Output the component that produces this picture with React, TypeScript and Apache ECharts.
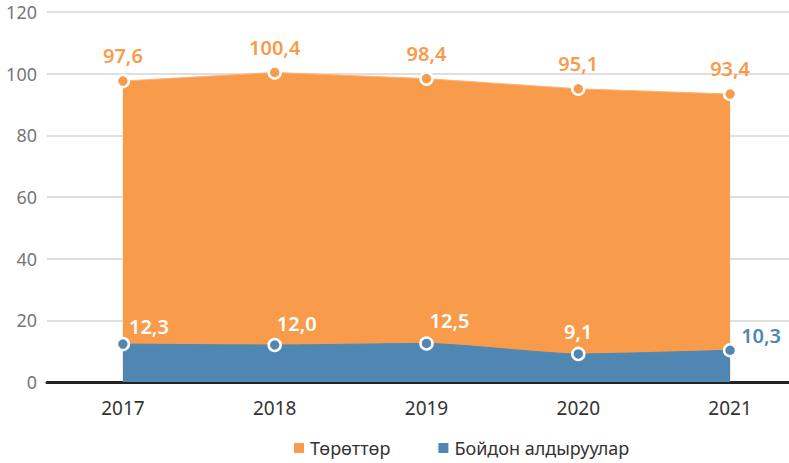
import React, { useEffect, useRef } from "react";
import * as echarts from "echarts";

const categories = ["2017", "2018", "2019", "2020", "2021"];
const birthsName = "Төрөттөр";
const abortionsName = "Бойдон алдыруулар";
const births = [97.6, 100.4, 98.4, 95.1, 93.4];
const abortions = [12.3, 12.0, 12.5, 9.1, 10.3];
const yTicks = [0, 20, 40, 60, 80, 100, 120];

const ORANGE = "#F89C4B";
const BLUE = "#5087B2";
const FONT = "Noto Sans";

const fmt = (v: number) => v.toFixed(1).replace(".", ",");

export default function App() {
  const ref = useRef<HTMLDivElement>(null);
  useEffect(() => {
    if (!ref.current) return;
    const chart = echarts.init(ref.current, undefined, { renderer: "svg" });
    const blueOffsets: [number, number][] = [
      [26, 8],
      [22, 4],
      [23, 2],
      [0, 3],
      [31, 11],
    ];
    chart.setOption({
      animation: false,
      textStyle: { fontFamily: FONT },
      grid: { left: 47, right: 0, top: 12, bottom: 81 },
      legend: {
        left: 287,
        bottom: 1,
        itemWidth: 12,
        itemHeight: 12,
        itemGap: 46,
        icon: "rect",
        textStyle: { fontSize: 18, color: "#333", fontFamily: FONT },
        data: [birthsName, abortionsName],
      },
      xAxis: {
        type: "category",
        data: categories,
        boundaryGap: true,
        axisLine: { lineStyle: { color: "#222", width: 3 } },
        axisTick: { show: false },
        axisLabel: { fontSize: 19, color: "#333", margin: 16, fontFamily: FONT },
      },
      yAxis: {
        type: "value",
        min: yTicks[0],
        max: yTicks[yTicks.length - 1],
        interval: 20,
        axisLine: { show: false },
        axisTick: { show: false },
        axisLabel: { fontSize: 18, color: "#777", margin: 10, fontFamily: FONT },
        splitLine: { lineStyle: { color: "#d4d4d4", width: 1.5 } },
      },
      series: [
        {
          name: birthsName,
          type: "line",
          data: births,
          symbol: "circle",
          symbolSize: 12,
          itemStyle: { color: ORANGE, borderColor: "#fff", borderWidth: 2.5 },
          lineStyle: { color: "#fbb57a", width: 1 },
          areaStyle: { color: ORANGE, opacity: 1 },
          label: {
            show: true,
            position: "top",
            distance: 8,
            color: ORANGE,
            fontSize: 20,
            fontWeight: 600,
            fontFamily: FONT,
            formatter: (p: any) => fmt(p.value),
          },
          z: 2,
        },
        {
          name: abortionsName,
          type: "line",
          data: abortions.map((v, i) => ({
            value: v,
            label: {
              offset: blueOffsets[i],
              color: i === abortions.length - 1 ? BLUE : "#fff",
            },
          })),
          symbol: "circle",
          symbolSize: 12,
          smooth: 0.2,
          itemStyle: { color: BLUE, borderColor: "#fff", borderWidth: 2.5 },
          lineStyle: { color: BLUE, width: 1 },
          areaStyle: { color: BLUE, opacity: 1 },
          label: {
            show: true,
            position: "top",
            distance: 8,
            fontSize: 20,
            fontWeight: 600,
            fontFamily: FONT,
            formatter: (p: any) => fmt(p.value),
          },
          z: 3,
        },
      ],
    });
    return () => chart.dispose();
  }, []);
  return (
    <div style={{ width: 789, height: 463, position: "absolute", left: 0, top: 0, overflow: "hidden" }}>
      <div ref={ref} style={{ width: 806, height: 463 }} />
    </div>
  );
}
